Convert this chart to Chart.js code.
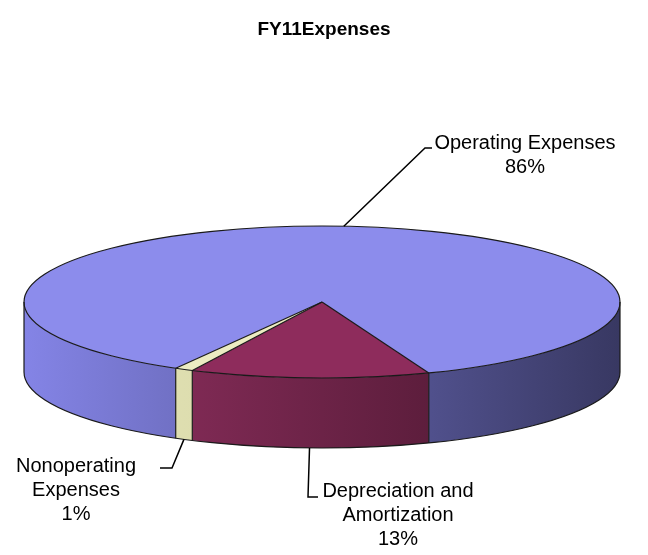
<!DOCTYPE html>
<html><head><meta charset="utf-8">
<script src="https://cdn.jsdelivr.net/npm/chart.js@4.4.1/dist/chart.umd.min.js"></script>
<style>html,body{margin:0;padding:0;background:#fff;}#wrap{width:648px;height:555px;}</style>
</head><body><div id="wrap"><canvas id="c" width="648" height="555"></canvas></div>
<script>
// ---- data ----
const categories = ['Operating Expenses', 'Depreciation and Amortization', 'Nonoperating Expenses'];
const values = [86, 13, 1];
const labelLines = [['Operating Expenses'], ['Depreciation and', 'Amortization'], ['Nonoperating', 'Expenses']];
const chartTitle = 'FY11Expenses';

// ---- styles ----
const topColors = ['#8C8CEC', '#8E2C5C', '#ECECC2'];
const wallLight = ['rgb(132,132,230)', 'rgb(150,50,100)', 'rgb(230,230,185)'];
const wallDark  = ['rgb(56,56,98)', 'rgb(66,20,42)', 'rgb(200,200,150)'];
const GEO = { cx: 322, cy: 302, rx: 298, ry: 76, depth: 70 };
const FONT = '"Liberation Sans", Arial, sans-serif';
const LABEL_LAYOUT = [
  { elbow: [425, 148], end: [432, 148], tx: 525, ty: 143 },
  { elbow: [308, 497], end: [318, 497], tx: 398, ty: 491 },
  { elbow: [172, 468], end: [160, 468], tx: 76,  ty: 466 }
];

function ePt(t, dy) { return [GEO.cx + GEO.rx * Math.cos(t), GEO.cy + GEO.ry * Math.sin(t) + (dy || 0)]; }

const pie3d = {
  id: 'pie3d',
  beforeDatasetsDraw(chart) {
    const ctx = chart.ctx;
    const arcs = chart.getDatasetMeta(0).data;
    // walls (front half only)
    arcs.forEach((arc, i) => {
      const s = arc.startAngle, e = arc.endAngle;
      for (let k = -2; k <= 2; k++) {
        const a = Math.max(s, 2 * Math.PI * k), b = Math.min(e, Math.PI + 2 * Math.PI * k);
        if (b <= a) continue;
        const n = 60;
        ctx.beginPath();
        for (let j = 0; j <= n; j++) { const p = ePt(a + (b - a) * j / n); j ? ctx.lineTo(p[0], p[1]) : ctx.moveTo(p[0], p[1]); }
        for (let j = n; j >= 0; j--) { const p = ePt(a + (b - a) * j / n, GEO.depth); ctx.lineTo(p[0], p[1]); }
        ctx.closePath();
        const g = ctx.createLinearGradient(GEO.cx - GEO.rx, 0, GEO.cx + GEO.rx, 0);
        g.addColorStop(0, wallLight[i]); g.addColorStop(1, wallDark[i]);
        ctx.fillStyle = g; ctx.fill();
      }
    });
    // squash the library's pie into the top ellipse
    const a0 = arcs[0];
    const R = a0.outerRadius;
    ctx.save();
    ctx.translate(GEO.cx, GEO.cy);
    ctx.scale(GEO.rx / R, GEO.ry / R);
    ctx.translate(-a0.x, -a0.y);
  },
  afterDatasetsDraw(chart) {
    const ctx = chart.ctx;
    ctx.restore();
    const arcs = chart.getDatasetMeta(0).data;
    ctx.save();
    ctx.strokeStyle = '#1a1a1a'; ctx.lineWidth = 1.2;
    // top outline
    ctx.beginPath(); ctx.ellipse(GEO.cx, GEO.cy, GEO.rx, GEO.ry, 0, 0, 2 * Math.PI); ctx.stroke();
    // bottom front outline
    ctx.beginPath(); ctx.ellipse(GEO.cx, GEO.cy + GEO.depth, GEO.rx, GEO.ry, 0, 0, Math.PI); ctx.stroke();
    // side edges
    [0, Math.PI].forEach(t => { const p = ePt(t); ctx.beginPath(); ctx.moveTo(p[0], p[1]); ctx.lineTo(p[0], p[1] + GEO.depth); ctx.stroke(); });
    // slice boundaries
    arcs.forEach(arc => {
      const t = arc.startAngle, p = ePt(t);
      ctx.beginPath(); ctx.moveTo(GEO.cx, GEO.cy); ctx.lineTo(p[0], p[1]); ctx.stroke();
      if (Math.sin(t) > 0) { ctx.beginPath(); ctx.moveTo(p[0], p[1]); ctx.lineTo(p[0], p[1] + GEO.depth); ctx.stroke(); }
    });
    // labels with leader lines
    const total = values.reduce((x, y) => x + y, 0);
    ctx.strokeStyle = '#000'; ctx.lineWidth = 1.5;
    ctx.font = '20px ' + FONT; ctx.fillStyle = '#000'; ctx.textAlign = 'center'; ctx.textBaseline = 'middle';
    arcs.forEach((arc, i) => {
      const m = (arc.startAngle + arc.endAngle) / 2;
      const anchor = ePt(m, Math.sin(m) > 0 ? GEO.depth : 0);
      const L = LABEL_LAYOUT[i];
      ctx.beginPath(); ctx.moveTo(anchor[0], anchor[1]); ctx.lineTo(L.elbow[0], L.elbow[1]); ctx.lineTo(L.end[0], L.end[1]); ctx.stroke();
      const lines = labelLines[i].concat([Math.round(values[i] / total * 100) + '%']);
      lines.forEach((ln, j) => ctx.fillText(ln, L.tx, L.ty + j * 24));
    });
    ctx.restore();
  }
};

new Chart(document.getElementById('c'), {
  type: 'pie',
  data: { labels: categories, datasets: [{ data: values, backgroundColor: topColors, borderWidth: 0 }] },
  options: {
    responsive: false, animation: false,
    rotation: 209.4,
    plugins: {
      legend: { display: false }, tooltip: { enabled: false },
      title: { display: true, text: chartTitle, color: '#000', font: { family: FONT, size: 19, weight: 'bold' }, padding: { top: 18, bottom: 10 } }
    }
  },
  plugins: [pie3d]
});
</script></body></html>
